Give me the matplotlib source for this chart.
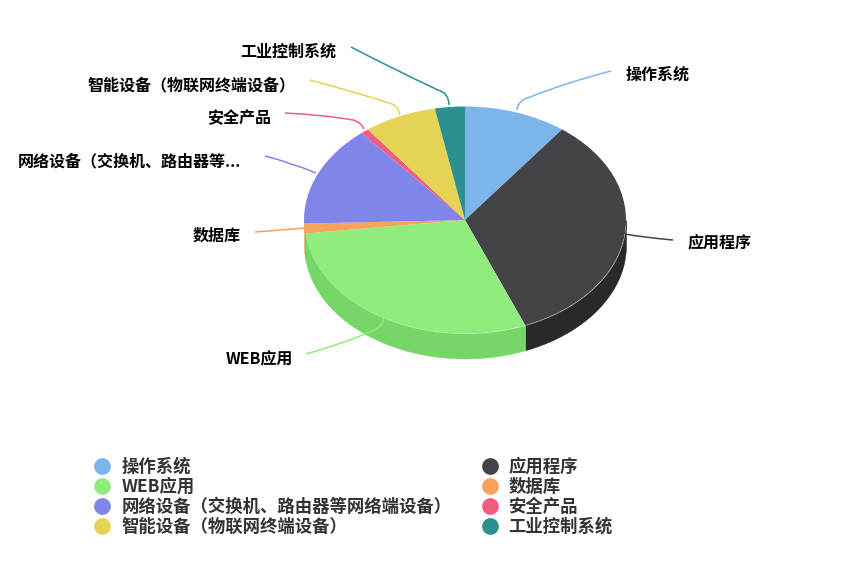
import numpy as np
import matplotlib
matplotlib.use("Agg")
import matplotlib.pyplot as plt
from matplotlib.path import Path
from matplotlib.patches import PathPatch

plt.rcParams['font.family'] = ['Noto Sans CJK SC', 'DejaVu Sans']

# === data ===
categories = ["操作系统", "应用程序", "WEB应用", "数据库",
              "网络设备（交换机、路由器等网络端设备）", "安全产品",
              "智能设备（物联网终端设备）", "工业控制系统"]
shares = [10.3, 33.6, 29.2, 1.4, 14.4, 0.8, 7.3, 3.0]
slice_labels = ["操作系统", "应用程序", "WEB应用", "数据库",
                "网络设备（交换机、路由器等...", "安全产品",
                "智能设备（物联网终端设备）", "工业控制系统"]

colors = ["#7cb5ec", "#434348", "#90ed7d", "#f7a35c",
          "#8085e9", "#f15c80", "#e4d354", "#2b908f"]
side_colors = ["#6a9ac9", "#29282d", "#76d667", "#e08f50"]

W, H = 865, 564
CX, CY, RX, RY, DEPTH = 465, 220, 161, 113.5, 25

fig = plt.figure(figsize=(W / 100, H / 100), dpi=100)

# pie axes: unit circle stretched to the ellipse of the tilted pie
ax = fig.add_axes([0, 0, 1, 1])
ax.pie(shares, colors=colors, startangle=90, counterclock=False, radius=1,
       wedgeprops=dict(linewidth=0.3, edgecolor="none"), normalize=True)
ax.set_aspect("auto")
ax.set_xlim(-CX / RX, (W - CX) / RX)
ax.set_ylim((CY - H) / RY, CY / RY)
ax.axis("off")

# side wall, only the first slices reach the front of the pie
edges = np.cumsum([0] + shares) / sum(shares) * 360
for a, b, c in zip(edges[:-1], edges[1:], side_colors):
    a = max(a, 90)
    if a >= b:
        continue
    t = np.radians(np.linspace(a, b, 120))
    ax.fill_between(np.sin(t), np.cos(t), np.cos(t) - DEPTH / RY,
                    color=c, linewidth=0.3, zorder=0.5)

# overlay in pixel coordinates for connectors and texts
ov = fig.add_axes([0, 0, 1, 1])
ov.set_xlim(0, W)
ov.set_ylim(H, 0)
ov.axis("off")
ov.patch.set_alpha(0)

# connector: start, ctrl, corner, ctrl, end
connectors = [
    [(611, 71), (565, 83), (530, 97), (518, 100), (517, 110)],
    [(625, 234), (640, 237), (673, 240), (673, 240), (673, 240)],
    [(306, 354), (345, 343), (372, 331), (383, 327), (384, 318)],
    [(255, 232), (280, 230), (305, 228), (305, 228), (305, 228)],
    [(265, 156), (292, 163), (316, 173), (316, 173), (316, 173)],
    [(285, 113), (325, 115), (353, 120), (361, 122), (364, 129)],
    [(310, 80), (352, 91), (392, 104), (398, 106), (400, 115)],
    [(351, 47), (395, 70), (438, 90), (449, 93), (449, 105)],
]
codes = [Path.MOVETO, Path.CURVE3, Path.CURVE3, Path.CURVE3, Path.CURVE3]
for pts, c in zip(connectors, colors):
    ov.add_patch(PathPatch(Path(pts, codes), fill=False, edgecolor=c, linewidth=1.1))

# slice labels
label_pos = [(626, 75), (688, 243), (226, 359), (193, 236),
             (18, 161), (207, 118), (88, 85), (240, 52)]
for (x, y), s in zip(label_pos, slice_labels):
    ov.text(x, y, s, fontsize=11.55, fontweight="bold", color="black",
            ha="left", va="center")

# legend
legend_x = [(102, 121.5), (490, 508.5)]
legend_y = [466, 486, 506, 526]
for i, (name, c) in enumerate(zip(categories, colors)):
    mx, tx = legend_x[i % 2]
    y = legend_y[i // 2]
    ov.scatter([mx], [y], s=145, color=c, linewidths=0)
    ov.text(tx, y + 1, name, fontsize=12.5, fontweight="bold", color="#333333",
            ha="left", va="center")

fig.savefig("out.png", dpi=100, facecolor="white")
